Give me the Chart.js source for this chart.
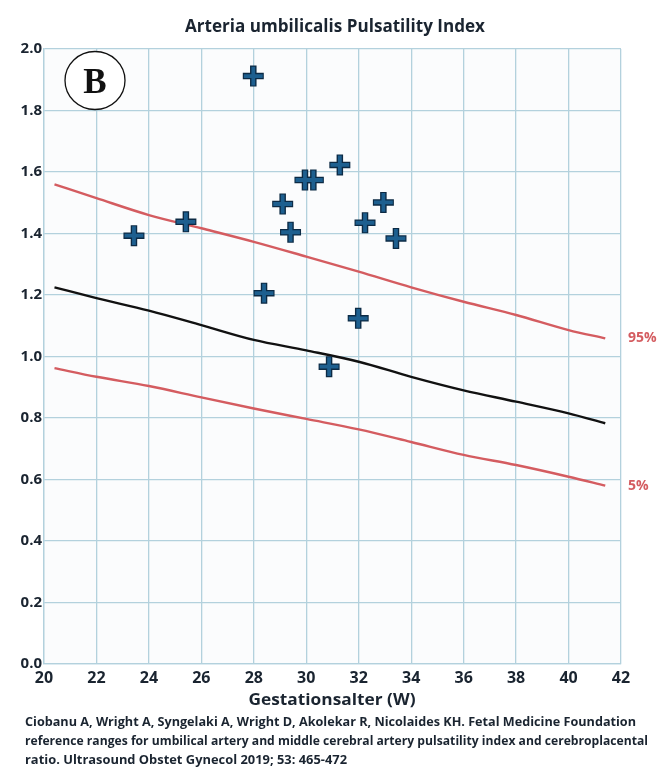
<!DOCTYPE html>
<html>
<head>
<meta charset="utf-8">
<script src="https://cdn.jsdelivr.net/npm/chart.js@4"></script>
<style>
  html, body { margin: 0; padding: 0; background: #ffffff; }
  #c { display: block; }
</style>
</head>
<body>
<canvas id="c" width="661" height="771"></canvas>
<script>
// ---- data ----
const chartTitle = "Arteria umbilicalis Pulsatility Index";
const xAxisTitle = "Gestationsalter (W)";
const citationLines = [
  "Ciobanu A, Wright A, Syngelaki A, Wright D, Akolekar R, Nicolaides KH. Fetal Medicine Foundation",
  "reference ranges for umbilical artery and middle cerebral artery pulsatility index and cerebroplacental",
  "ratio. Ultrasound Obstet Gynecol 2019; 53: 465-472"
];
const panelLetter = "B";

const curveWeeks = [20.4, 22, 24, 26, 28, 30, 32, 34, 36, 38, 40, 41.4];
const p95Values  = [1.56, 1.515, 1.46, 1.417, 1.373, 1.325, 1.276, 1.225, 1.178, 1.135, 1.086, 1.059];
const p50Values  = [1.225, 1.19, 1.149, 1.102, 1.054, 1.02, 0.983, 0.934, 0.89, 0.853, 0.815, 0.783];
const p5Values   = [0.962, 0.934, 0.904, 0.867, 0.831, 0.797, 0.763, 0.722, 0.68, 0.647, 0.609, 0.58];
const curveLabels = ["95%", "5%"];

const patientWeeks = [23.43, 25.41, 27.98, 28.39, 29.10, 29.40, 29.95, 30.27, 30.87, 31.28, 31.98, 32.24, 32.94, 33.42];
const patientPI    = [1.393, 1.438, 1.912, 1.206, 1.496, 1.404, 1.574, 1.574, 0.967, 1.623, 1.124, 1.435, 1.501, 1.384];

const xMin = 20, xMax = 42, xStep = 2;
const yMin = 0, yMax = 2, yStep = 0.2;

// ---- helpers ----
const pairs = (xs, ys) => xs.map((x, i) => ({ x: x, y: ys[i] }));
const RED = '#d45c60';
const GRID = '#b3d1dd';
const TEXT = '#1a2430';
const FONT = '"Open Sans", "DejaVu Sans", sans-serif';

// draw text squeezed/stretched horizontally to a measured width (Calibri-like proportions)
function fitText(ctx, text, x, y, targetWidth) {
  const w = ctx.measureText(text).width;
  ctx.save();
  ctx.translate(x, y);
  ctx.scale(targetWidth / w, 1);
  ctx.fillText(text, 0, 0);
  ctx.restore();
}

const decorPlugin = {
  id: 'decor',
  beforeDraw(chart) {
    const { ctx, chartArea: a } = chart;
    ctx.save();
    ctx.fillStyle = '#fbfcfd';
    ctx.fillRect(a.left, a.top, a.right - a.left, a.bottom - a.top);
    ctx.restore();
  },
  afterDraw(chart) {
    const { ctx, chartArea: a, scales } = chart;
    ctx.save();
    ctx.fillStyle = TEXT;
    ctx.textBaseline = 'middle';
    // title
    ctx.textAlign = 'center';
    ctx.font = 'bold 17px ' + FONT;
    fitText(ctx, chartTitle, 335, 27, 300);
    // x axis title
    ctx.font = 'bold 16.5px ' + FONT;
    fitText(ctx, xAxisTitle, 332, 700, 167);
    // citation
    ctx.textAlign = 'left';
    ctx.font = 'bold 12px ' + FONT;
    const citeWidths = [611, 623, 322];
    citationLines.forEach((t, i) => fitText(ctx, t, 25, 723 + i * 19, citeWidths[i]));
    // percentile labels at the ends of the curves
    ctx.fillStyle = RED;
    ctx.font = 'bold 14px ' + FONT;
    ctx.fillText(curveLabels[0], a.right + 7, scales.y.getPixelForValue(p95Values[p95Values.length - 1]));
    ctx.fillText(curveLabels[1], a.right + 7, scales.y.getPixelForValue(p5Values[p5Values.length - 1]));
    // panel letter in a circle
    const cx = 95, cy = 80.5;
    ctx.beginPath();
    ctx.ellipse(cx, cy, 30, 29, 0, 0, Math.PI * 2);
    ctx.fillStyle = '#ffffff';
    ctx.fill();
    ctx.lineWidth = 1.3;
    ctx.strokeStyle = '#111';
    ctx.stroke();
    ctx.fillStyle = '#111';
    ctx.textAlign = 'center';
    ctx.textBaseline = 'alphabetic';
    ctx.font = 'bold 35px "Liberation Serif", "DejaVu Serif", serif';
    ctx.fillText(panelLetter, cx, cy + 12.5);
    ctx.restore();
  }
};

new Chart(document.getElementById('c'), {
  type: 'scatter',
  data: {
    datasets: [
      { label: '95%', data: pairs(curveWeeks, p95Values), showLine: true, borderColor: RED, borderWidth: 2.4, pointRadius: 0, cubicInterpolationMode: 'monotone', order: 5 },
      { label: '50%', data: pairs(curveWeeks, p50Values), showLine: true, borderColor: '#111111', borderWidth: 2.4, pointRadius: 0, cubicInterpolationMode: 'monotone', order: 4 },
      { label: '5%',  data: pairs(curveWeeks, p5Values),  showLine: true, borderColor: RED, borderWidth: 2.4, pointRadius: 0, cubicInterpolationMode: 'monotone', order: 3 },
      { label: 'PI outline', data: pairs(patientWeeks, patientPI), pointStyle: 'cross', pointRadius: 10.5, borderColor: '#0c2a44', borderWidth: 6.5, backgroundColor: '#0c2a44', order: 2 },
      { label: 'PI', data: pairs(patientWeeks, patientPI), pointStyle: 'cross', pointRadius: 9.4, borderColor: '#1d5f8f', borderWidth: 3.8, backgroundColor: '#1d5f8f', order: 1 }
    ]
  },
  options: {
    responsive: false,
    animation: false,
    events: [],
    layout: { padding: { top: 49, right: 40, left: 0, bottom: 0 } },
    plugins: { legend: { display: false }, tooltip: { enabled: false }, title: { display: false } },
    scales: {
      x: {
        type: 'linear', min: xMin, max: xMax,
        afterFit(s) { s.height = 107; },
        ticks: { stepSize: xStep, autoSkip: false, padding: 5, color: TEXT, font: { family: FONT, size: 16, weight: 'bold' } },
        grid: { color: GRID, lineWidth: 1.3, drawTicks: false },
        border: { color: GRID, width: 1.3 }
      },
      y: {
        min: yMin, max: yMax,
        afterFit(s) { s.width = 44; },
        ticks: { stepSize: yStep, padding: 2, color: TEXT, font: { family: FONT, size: 15, weight: 'bold' }, callback: v => Number(v).toFixed(1) },
        grid: { color: GRID, lineWidth: 1.3, drawTicks: false },
        border: { color: GRID, width: 1.3 }
      }
    }
  },
  plugins: [decorPlugin]
});
</script>
</body>
</html>
